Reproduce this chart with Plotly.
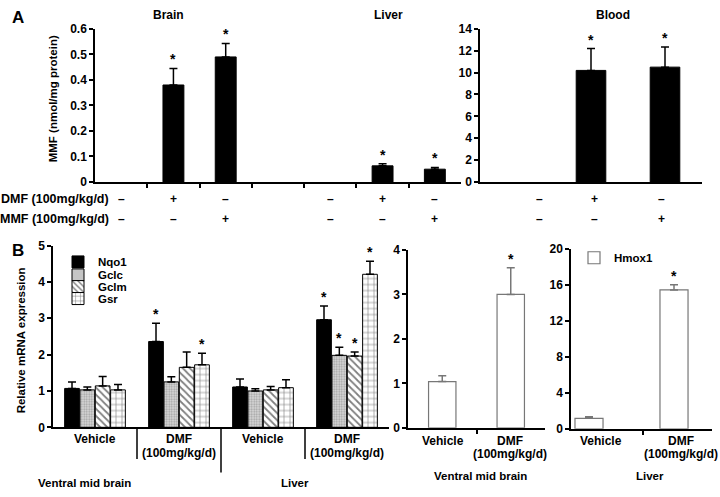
import plotly.graph_objects as go

FONT = "Arial, 'Liberation Sans', Helvetica, sans-serif"
W, H = 720, 497

# ---------------- Panel A data ----------------
a_titles = ["Brain", "Liver", "Blood"]
a_row_names = ["DMF (100mg/kg/d)", "MMF (100mg/kg/d)"]
dmf_signs = ["–", "+", "–"]
mmf_signs = ["–", "–", "+"]
brain_sign_pos = [0, 1, 2]
liver_sign_pos = [4, 5, 6]
blood_sign_pos = [0.3, 1.05, 1.95]

brain_pos = [1, 2]
brain_val = [0.38, 0.49]
brain_err = [0.065, 0.053]
liver_pos = [5, 6]
liver_val = [0.063, 0.05]
liver_err = [0.008, 0.007]
blood_pos = [1, 2]
blood_val = [10.2, 10.5]
blood_err = [2.0, 1.85]

# ---------------- Panel B data ----------------
b_groups = ["Vehicle", "DMF<br>(100mg/kg/d)", "Vehicle", "DMF<br>(100mg/kg/d)"]
b_tissues = ["Ventral mid brain", "Liver"]
genes = ["Nqo1", "Gclc", "Gclm", "Gsr"]
nqo1 = [1.07, 2.36, 1.11, 2.96]
nqo1_err = [0.18, 0.50, 0.22, 0.38]
gclc = [1.03, 1.25, 1.00, 1.98]
gclc_err = [0.08, 0.14, 0.06, 0.22]
gclm = [1.14, 1.65, 1.03, 1.96]
gclm_err = [0.26, 0.42, 0.09, 0.11]
gsr = [1.03, 1.72, 1.09, 4.21]
gsr_err = [0.15, 0.32, 0.22, 0.36]
sig = {
    "Nqo1": [False, True, False, True],
    "Gclc": [False, False, False, True],
    "Gclm": [False, False, False, True],
    "Gsr": [False, True, False, True],
}
hmox_groups = ["Vehicle", "DMF<br>(100mg/kg/d)"]
hmox_vmb = [1.04, 3.0]
hmox_vmb_err = [0.13, 0.6]
hmox_vmb_sig = [False, True]
hmox_liver = [1.16, 15.45]
hmox_liver_err = [0.17, 0.57]
hmox_liver_sig = [False, True]


def px(x):
    return x / W


def py(y):
    return 1 - y / H


fig = go.Figure()


def err(arr, color="black"):
    return dict(type="data", symmetric=False, thickness=1.5, width=4, color=color,
                array=arr, arrayminus=[0] * len(arr))


# Panel A bars
fig.add_trace(go.Bar(x=brain_pos, y=brain_val, error_y=err(brain_err), width=0.4,
                     marker=dict(color="black", line=dict(color="black", width=1)),
                     xaxis="x", yaxis="y", showlegend=False))
fig.add_trace(go.Bar(x=liver_pos, y=liver_val, error_y=err(liver_err), width=0.4,
                     marker=dict(color="black", line=dict(color="black", width=1)),
                     xaxis="x", yaxis="y", showlegend=False))
fig.add_trace(go.Bar(x=blood_pos, y=blood_val, error_y=err(blood_err), width=0.4,
                     marker=dict(color="black", line=dict(color="black", width=1)),
                     xaxis="x2", yaxis="y2", showlegend=False))

# Panel B grouped bars
gene_vals = [nqo1, gclc, gclm, gsr]
gene_errs = [nqo1_err, gclc_err, gclm_err, gsr_err]
patterns = [
    dict(shape=""),
    dict(shape=".", size=2.5, solidity=0.45, fgcolor="#666", bgcolor="#dcdcdc"),
    dict(shape="\\", size=5, solidity=0.35, fgcolor="black", bgcolor="white"),
    dict(shape="+", size=6, solidity=0.2, fgcolor="black", bgcolor="white"),
]
fills = ["black", "#dcdcdc", "white", "white"]
legend_ids = ["legend", "legend2", "legend3", "legend4"]
for i, g in enumerate(genes):
    fig.add_trace(go.Bar(
        x=list(range(len(b_groups))), y=gene_vals[i], error_y=err(gene_errs[i]),
        name=g, marker=dict(color=fills[i], pattern=patterns[i],
                            line=dict(color="black", width=1)),
        xaxis="x3", yaxis="y3", legend=legend_ids[i], showlegend=True))

fig.add_trace(go.Bar(x=[0, 1], y=hmox_vmb, error_y=err(hmox_vmb_err, "#777"), width=0.4,
                     marker=dict(color="white", line=dict(color="#777", width=1.2)),
                     xaxis="x4", yaxis="y4", showlegend=False, name="Hmox1"))
fig.add_trace(go.Bar(x=[0, 1], y=hmox_liver, error_y=err(hmox_liver_err, "#777"), width=0.33,
                     marker=dict(color="white", line=dict(color="#777", width=1.2)),
                     xaxis="x5", yaxis="y5", showlegend=True, name="Hmox1", legend="legend5"))

BARGAP = 0.27
fig.update_layout(barmode="group", bargap=BARGAP, bargroupgap=0.04)

axis_base = dict(showline=True, linecolor="black", linewidth=1.5, showgrid=False,
                 zeroline=False, ticks="outside", ticklen=4, tickwidth=1.5,
                 tickcolor="black",
                 tickfont=dict(family=FONT, size=12, color="black", weight="bold"))

# Axes: panel A
yA0, yA1 = 180, 22.5
fig.update_layout(
    xaxis=dict(axis_base, domain=[px(95), px(461)], range=[-0.5, 6.5], anchor="y",
               tickvals=[0.5, 1.5, 2.5, 3.5, 4.5, 5.5], ticktext=[""] * 6),
    yaxis=dict(axis_base, domain=[py(yA0), py(yA1)], range=[0, 0.6], dtick=0.1,
               anchor="x"),
    xaxis2=dict(axis_base, domain=[px(480), px(702)], range=[-0.5, 2.5], anchor="y2",
                ticks="", showticklabels=False),
    yaxis2=dict(axis_base, domain=[py(yA0), py(yA1)], range=[0, 14], dtick=2,
                anchor="x2"),
)

# Axes: panel B
r0 = -(589 - 571) / 85
r1 = r0 + (712 - 571) / 85
fig.update_layout(
    xaxis3=dict(axis_base, domain=[px(53), px(389)], range=[-0.5, 3.5], anchor="y3",
                ticks="", showticklabels=False),
    yaxis3=dict(axis_base, domain=[py(432.5), py(245.5)], range=[0, 5], dtick=1,
                anchor="x3"),
    xaxis4=dict(axis_base, domain=[px(408), px(545)], range=[-0.5, 1.5], anchor="y4",
                tickvals=[0.5], ticktext=[""]),
    yaxis4=dict(axis_base, domain=[py(433), py(250)], range=[0, 4], dtick=1,
                anchor="x4"),
    xaxis5=dict(axis_base, domain=[px(571), px(712)], range=[r0, r1], anchor="y5",
                tickvals=[(643 - 589) / 85], ticktext=[""]),
    yaxis5=dict(axis_base, domain=[py(434), py(249)], range=[0, 20], dtick=4,
                anchor="x5"),
)

ann = []


def text(x, y, t, size=12, xref="paper", yref="paper", xanchor="center",
         yanchor="middle", angle=0, weight="bold", color="black"):
    ann.append(dict(x=x, y=y, xref=xref, yref=yref, text=t, showarrow=False,
                    xanchor=xanchor, yanchor=yanchor, textangle=angle,
                    font=dict(family=FONT, size=size, color=color, weight=weight)))


def star(x, y, xref, yref):
    ann.append(dict(x=x, y=y, xref=xref, yref=yref, text="*", showarrow=False,
                    xanchor="center", yanchor="bottom", yshift=-1,
                    font=dict(family=FONT, size=14, color="black", weight="bold")))


# Panel letters
text(px(18), py(11), "A", size=17)
text(px(18), py(251), "B", size=17)

# Panel A titles
text(px(168), py(8), a_titles[0], size=12)
text(px(388), py(8), a_titles[1], size=12)
text(px(613), py(8), a_titles[2], size=12)

# Y titles
text(px(53), py(95), "MMF (nmol/mg protein)", size=11.5, angle=-90)
text(px(21), py(343), "Relative mRNA expression", size=11.5, angle=-90)

# Panel A treatment rows
row_y = [198, 218]
text(px(111), py(row_y[0]), a_row_names[0], size=12.5, xanchor="right")
text(px(111), py(row_y[1]), a_row_names[1], size=12.5, xanchor="right")
for signs, yy in [(dmf_signs, row_y[0]), (mmf_signs, row_y[1])]:
    for s, xx in zip(signs, brain_sign_pos):
        text(xx, py(yy), s, size=12, xref="x")
    for s, xx in zip(signs, liver_sign_pos):
        text(xx, py(yy), s, size=12, xref="x")
    for s, xx in zip(signs, blood_sign_pos):
        text(xx, py(yy), s, size=12, xref="x2")

# Panel A asterisks
for xx, v, e in zip(brain_pos, brain_val, brain_err):
    star(xx, v + e, "x", "y")
for xx, v, e in zip(liver_pos, liver_val, liver_err):
    star(xx, v + e, "x", "y")
for xx, v, e in zip(blood_pos, blood_val, blood_err):
    star(xx, v + e, "x2", "y2")

# Panel B asterisks (grouped bars)
slot = (1 - BARGAP) / len(genes)
for i, g in enumerate(genes):
    off = (i - (len(genes) - 1) / 2) * slot
    for j in range(len(b_groups)):
        if sig[g][j]:
            star(j + off, gene_vals[i][j] + gene_errs[i][j], "x3", "y3")
for j in range(2):
    if hmox_vmb_sig[j]:
        star(j, hmox_vmb[j] + hmox_vmb_err[j], "x4", "y4")
    if hmox_liver_sig[j]:
        star(j, hmox_liver[j] + hmox_liver_err[j], "x5", "y5")

# Panel B group labels
for j, g in enumerate(b_groups):
    parts = g.split("<br>")
    text(j, py(445), parts[0], size=12, xref="x3")
    if len(parts) > 1:
        text(j, py(459), parts[1], size=12, xref="x3")
text(px(84), py(490), b_tissues[0], size=11.5)
text(px(295), py(490), b_tissues[1], size=11.5)

for xx, g in zip([443, 510], hmox_groups):
    parts = g.split("<br>")
    text(px(xx), py(447), parts[0], size=12)
    if len(parts) > 1:
        text(px(xx), py(460), parts[1], size=12)
for xx, g in zip([601, 681], hmox_groups):
    parts = g.split("<br>")
    text(px(xx), py(447), parts[0], size=12)
    if len(parts) > 1:
        text(px(xx), py(460), parts[1], size=12)
text(px(480), py(483), b_tissues[0], size=11.5)
text(px(650), py(483), b_tissues[1], size=11.5)

# Group separators on panel B left chart
shapes = []
for xx, ybot in [(0.5, 465), (1.5, 479), (2.5, 465)]:
    shapes.append(dict(type="line", xref="x3", yref="paper", x0=xx, x1=xx,
                       y0=py(432.5), y1=py(ybot), line=dict(color="black", width=1.5)))

legend_common = dict(bgcolor="rgba(0,0,0,0)", xanchor="left", yanchor="middle",
                     font=dict(family=FONT, size=11.5, color="black", weight="bold"),
                     itemclick=False, itemdoubleclick=False)
leg_y = [262.3, 275.7, 287.7, 300]
layout_legends = {}
for lid, yy in zip(legend_ids, leg_y):
    layout_legends[lid] = dict(legend_common, x=px(58), y=py(yy))
layout_legends["legend5"] = dict(legend_common, x=px(574), y=py(258))

fig.update_layout(
    width=W, height=H, margin=dict(l=0, r=0, t=0, b=0),
    paper_bgcolor="white", plot_bgcolor="white",
    annotations=ann, shapes=shapes, **layout_legends,
    font=dict(family=FONT, color="black"),
)

fig.write_html("out.html", config={"displayModeBar": False},
               post_script="document.body.style.margin='0';document.body.style.overflow='hidden';")
